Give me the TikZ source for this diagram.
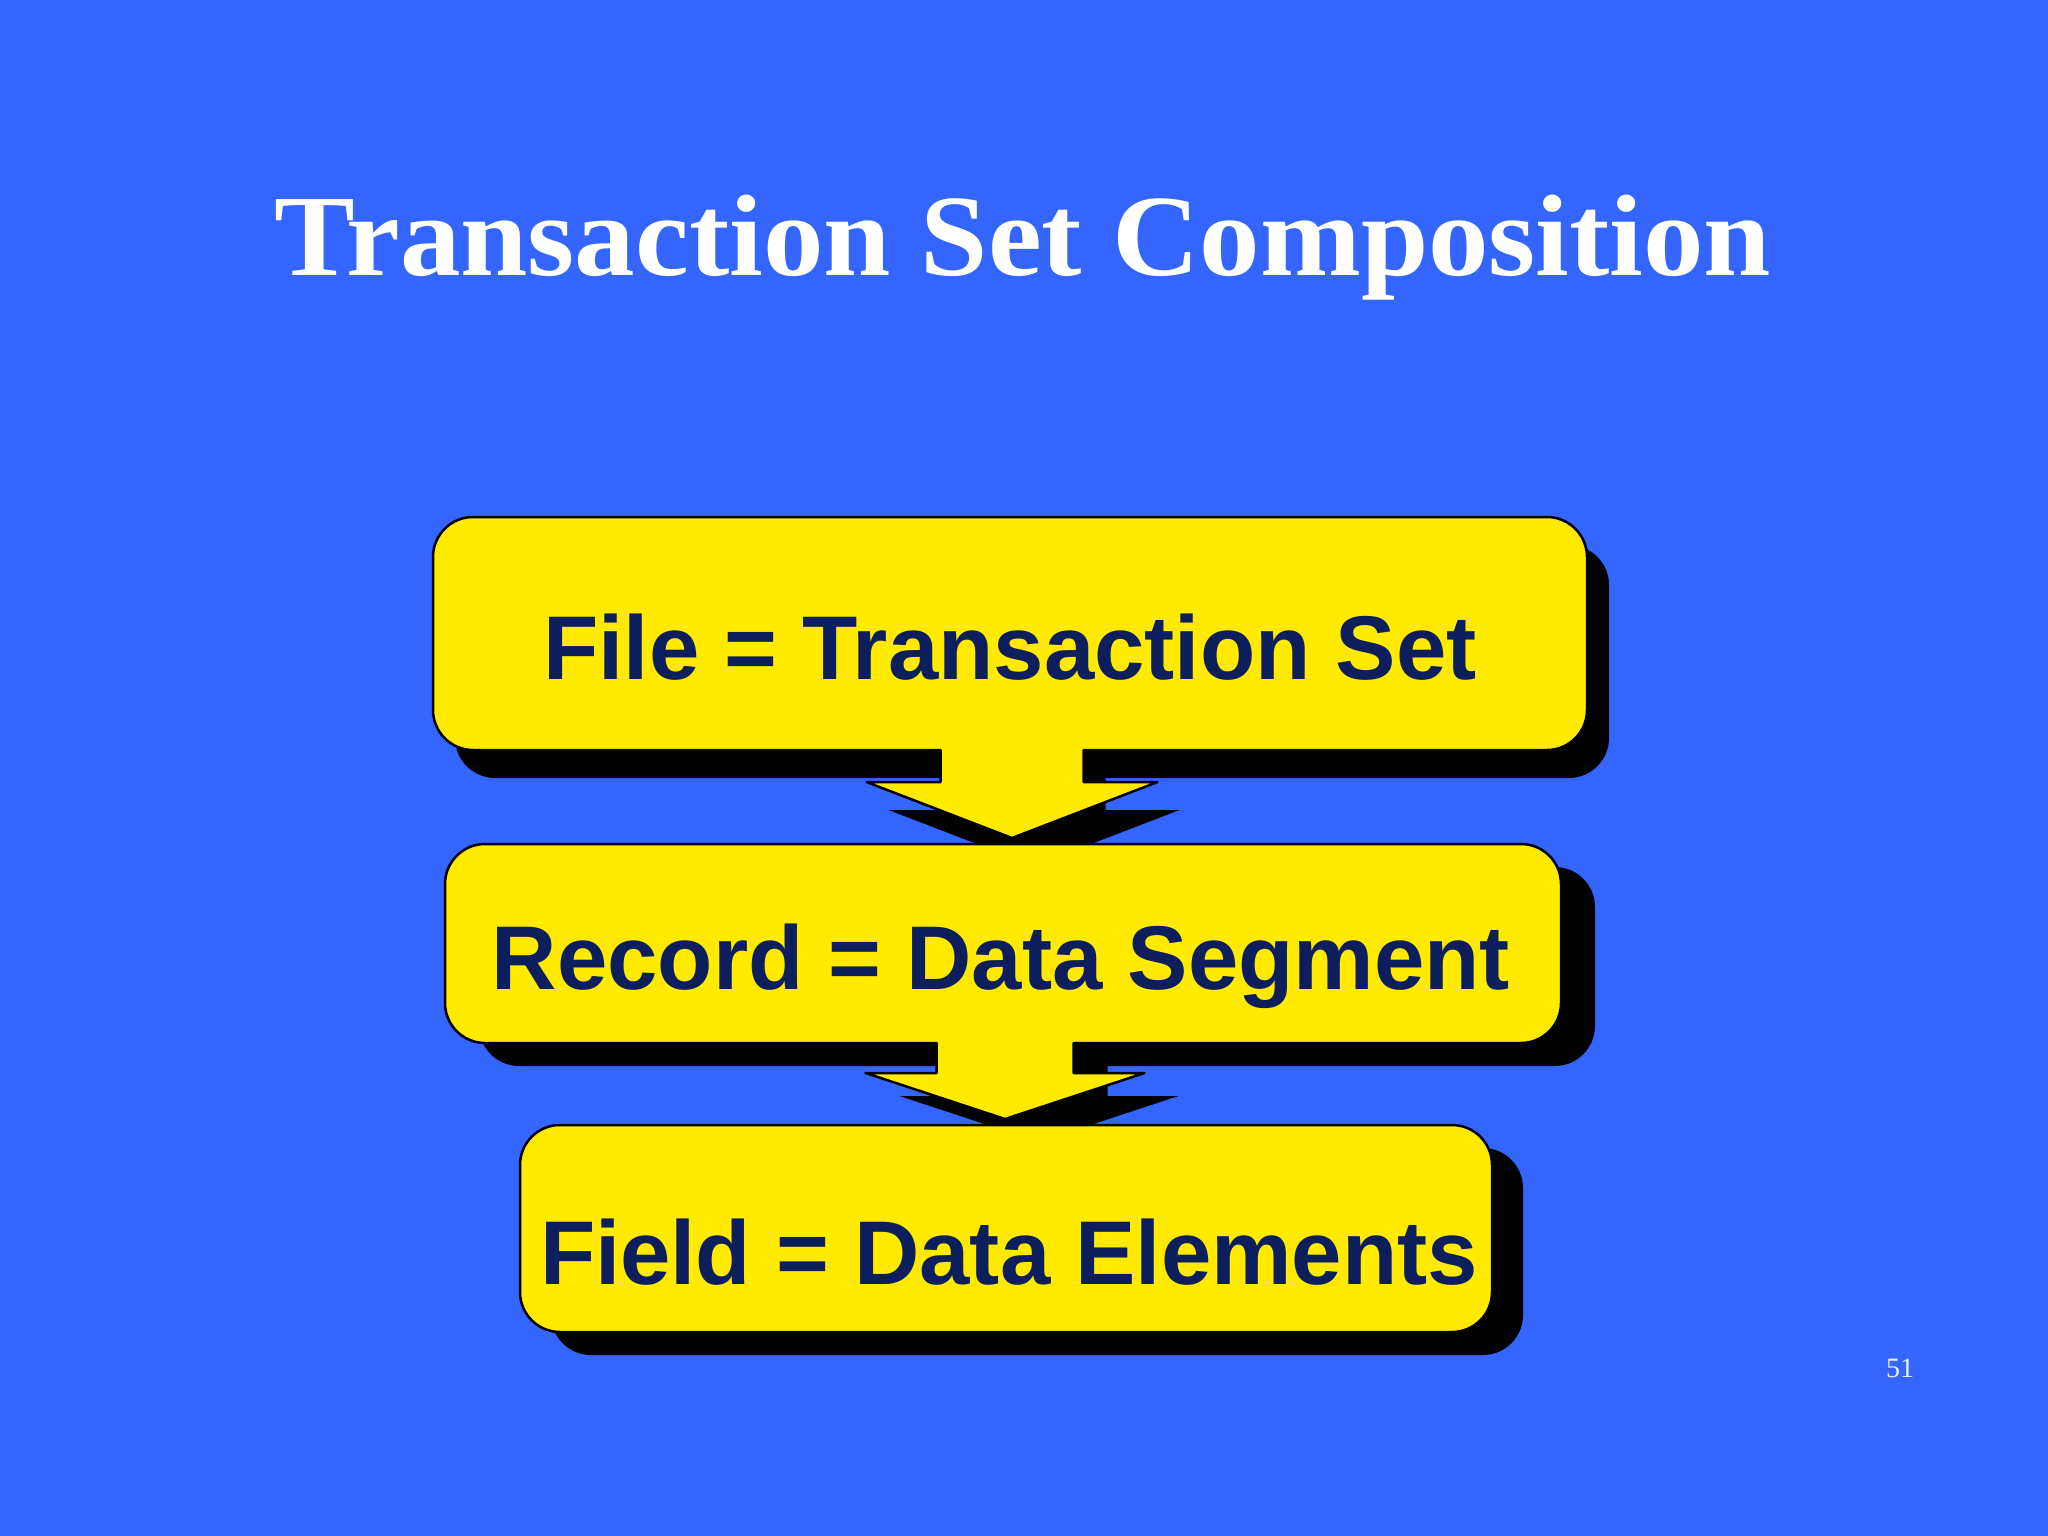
\documentclass[tikz,border=0pt]{standalone}
\usepackage{fontspec}
\setmainfont{Liberation Serif}
\newfontfamily\boxfont{Liberation Sans}
\newfontfamily\titlefont{Liberation Serif}
\definecolor{bg}{RGB}{52,102,255}
\definecolor{ylw}{RGB}{255,234,0}
\definecolor{navy}{RGB}{12,30,92}
\def\R{40}
\def\K{22}
% #1 x1, #2 y1, #3 x2, #4 y2, #5 shaft centre, #6 shaft half width, #7 wing y, #8 wing half width, #9 tip y
\newcommand\arrowboxpath[9]{%
 (#1+\R,#2) -- (#3-\R,#2) .. controls (#3-\R+\K,#2) and (#3,#2+\R-\K) .. (#3,#2+\R)
 -- (#3,#4-\R) .. controls (#3,#4-\R+\K) and (#3-\R+\K,#4) .. (#3-\R,#4)
 -- (#5+#6,#4) -- (#5+#6,#7) -- (#5+#8,#7) -- (#5,#9) -- (#5-#8,#7) -- (#5-#6,#7) -- (#5-#6,#4)
 -- (#1+\R,#4) .. controls (#1+\R-\K,#4) and (#1,#4-\R+\K) .. (#1,#4-\R)
 -- (#1,#2+\R) .. controls (#1,#2+\R-\K) and (#1+\R-\K,#2) .. cycle}
\tikzset{
  shade box/.style={fill=black},
  main box/.style={fill=ylw, draw=black, line width=2.5pt, line join=round},
  boxtext/.style={anchor=base, inner sep=0pt, text=navy, font=\boxfont\bfseries\fontsize{90.5}{100}\selectfont},
}
\begin{document}
\begin{tikzpicture}[x=1pt,y=-1pt]
\useasboundingbox (0,0) rectangle (2048,1536);
\fill[bg] (0,0) rectangle (2048,1536);

% title
\node[anchor=base, inner sep=0pt, text=white] (title) at (1023,275)
  {\scalebox{1.043}[1]{\titlefont\bfseries\fontsize{116}{125}\selectfont Transaction Set Composition}};

% shape 1
\fill[shade box, shift={(22,28)}] \arrowboxpath{433}{517}{1587}{750}{1012}{71.5}{782}{145.5}{838};
\path[main box] \arrowboxpath{433}{517}{1587}{750}{1012}{71.5}{782}{145.5}{838};
\node[boxtext] (t1) at (1010,679) {File = Transaction Set};

% shape 2
\fill[shade box, shift={(34,23)}] \arrowboxpath{445}{844}{1561}{1043}{1005}{68.5}{1073}{139.5}{1119};
\path[main box] \arrowboxpath{445}{844}{1561}{1043}{1005}{68.5}{1073}{139.5}{1119};
\node[boxtext] (t2) at (1001,989) {Record = Data Segment};

% shape 3
\fill[shade box, rounded corners=40pt] (551,1148) rectangle (1523,1355);
\path[main box, rounded corners=40pt] (520,1125) rectangle (1492,1332);
\node[boxtext] (t3) at (1009,1284) {Field = Data Elements};

% page number
\node[anchor=base, inner sep=0pt, text={rgb,255:red,235;green,240;blue,255}, font=\fontsize{28}{30}\selectfont] (pg) at (1900,1377) {51};
\end{tikzpicture}
\end{document}
